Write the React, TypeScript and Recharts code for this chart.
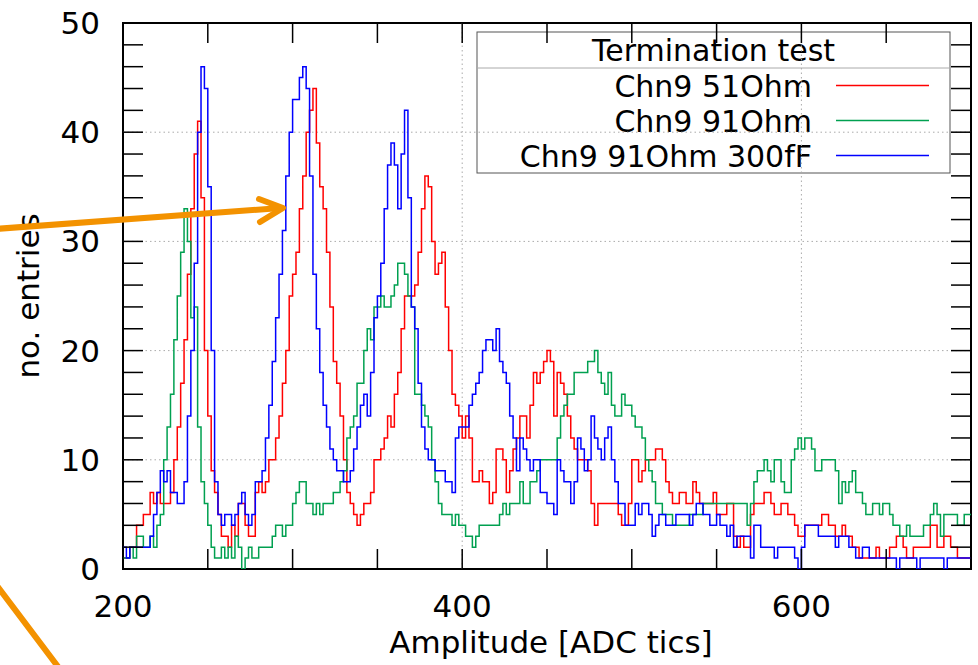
import React from 'react';
import { LineChart, Line, XAxis, YAxis, ReferenceLine, ReferenceArea } from 'recharts';

// histogram counts, bins of 2 ADC tics starting at 200
const binStart = 200;
const binWidth = 2;

const chn9_51Ohm = [
  1, 1, 2, 2, 4, 4, 5, 5, 7, 6, 7, 6, 6, 6, 7, 10, 13, 17, 21, 27, 33, 38, 41, 34, 20,
  14, 9, 7, 5, 3, 3, 2, 4, 3, 6, 6, 4, 3, 3, 7, 8, 7, 8, 10, 10, 12, 14, 17, 20, 25,
  27, 29, 33, 36, 40, 42, 44, 39, 35, 33, 29, 24, 19, 17, 14, 10, 7, 6, 5, 4, 5, 6, 6, 7, 10,
  10, 11, 12, 14, 13, 16, 18, 22, 25, 25, 25, 26, 29, 33, 36, 35, 30, 27, 28, 29, 24, 20, 16, 15, 14,
  12, 14, 12, 8, 8, 9, 8, 8, 6, 7, 11, 11, 10, 7, 9, 11, 12, 14, 14, 12, 15, 18, 17, 18, 19,
  20, 19, 14, 18, 17, 16, 14, 12, 11, 10, 10, 10, 9, 6, 4, 6, 6, 6, 6, 6, 6, 5, 4, 4, 6,
  10, 10, 8, 9, 10, 10, 10, 11, 11, 10, 8, 7, 6, 6, 7, 7, 6, 6, 8, 7, 6, 6, 6, 6, 7,
  5, 5, 5, 6, 6, 3, 2, 3, 2, 2, 5, 6, 6, 6, 7, 7, 6, 5, 5, 6, 6, 5, 5, 4, 3,
  3, 4, 4, 4, 4, 4, 5, 5, 4, 4, 3, 3, 4, 3, 3, 2, 2, 1, 1, 1, 1, 1, 2, 1, 1,
  1, 2, 2, 3, 3, 2, 1, 1, 2, 2, 2, 2, 2, 4, 4, 2, 2, 3, 3, 2, 2, 1, 1, 1, 1,
];

const chn9_91Ohm = [
  1, 1, 2, 1, 3, 3, 2, 2, 3, 2, 4, 5, 10, 13, 16, 21, 25, 29, 33, 30, 23, 24, 13, 8, 6,
  4, 2, 1, 1, 2, 1, 2, 1, 3, 2, 0, 1, 2, 1, 1, 2, 2, 2, 2, 3, 4, 4, 3, 4, 4,
  6, 7, 8, 8, 6, 6, 5, 6, 5, 6, 6, 6, 7, 7, 8, 9, 12, 13, 14, 17, 17, 20, 22, 21, 24,
  24, 25, 24, 24, 25, 26, 28, 28, 27, 25, 24, 16, 16, 15, 14, 13, 10, 8, 6, 5, 5, 5, 4, 5, 4,
  4, 3, 3, 2, 3, 4, 4, 4, 4, 4, 4, 5, 6, 5, 6, 6, 6, 8, 6, 6, 8, 8, 9, 10, 10,
  10, 10, 10, 12, 14, 15, 16, 16, 18, 18, 18, 18, 19, 19, 20, 18, 17, 16, 18, 15, 14, 14, 16, 15, 15,
  14, 13, 13, 12, 10, 9, 8, 6, 6, 5, 5, 5, 4, 4, 4, 4, 4, 5, 5, 5, 5, 6, 6, 6, 6,
  6, 6, 6, 6, 6, 6, 6, 6, 6, 4, 6, 8, 9, 9, 10, 9, 8, 10, 10, 8, 7, 7, 10, 11, 12,
  11, 12, 12, 11, 9, 9, 10, 10, 10, 10, 9, 6, 8, 7, 8, 9, 7, 7, 6, 5, 5, 6, 6, 5, 6,
  6, 5, 4, 4, 3, 3, 4, 3, 3, 3, 3, 4, 4, 5, 6, 5, 3, 5, 5, 5, 5, 4, 4, 5, 5,
];

const chn9_91Ohm_300fF = [
  2, 1, 2, 2, 2, 2, 2, 2, 3, 5, 7, 9, 8, 9, 7, 7, 6, 6, 8, 14, 20, 28, 40, 46, 44,
  35, 20, 8, 5, 4, 5, 5, 4, 5, 6, 7, 5, 4, 5, 8, 8, 9, 12, 15, 19, 23, 27, 31, 36, 40,
  43, 43, 45, 46, 44, 36, 27, 22, 18, 15, 13, 11, 10, 9, 9, 8, 8, 9, 11, 13, 15, 16, 14, 18, 23,
  25, 28, 33, 37, 39, 37, 33, 38, 42, 34, 24, 22, 17, 13, 11, 10, 10, 9, 9, 9, 8, 8, 7, 12, 13,
  13, 13, 15, 16, 17, 18, 20, 21, 21, 20, 22, 19, 18, 17, 14, 12, 9, 12, 11, 10, 9, 10, 10, 7, 7,
  6, 6, 5, 10, 9, 8, 8, 6, 8, 12, 11, 9, 10, 14, 12, 11, 10, 12, 13, 10, 8, 6, 6, 4, 4,
  4, 6, 5, 6, 6, 5, 3, 4, 5, 5, 4, 4, 4, 5, 5, 5, 5, 4, 5, 6, 6, 5, 5, 4, 4,
  5, 4, 4, 3, 4, 2, 3, 3, 3, 3, 1, 4, 4, 2, 2, 2, 2, 1, 2, 2, 2, 2, 2, 1, 0,
  2, 4, 4, 4, 4, 3, 3, 3, 3, 3, 2, 3, 3, 3, 2, 2, 1, 1, 2, 2, 1, 1, 1, 1, 1,
  1, 1, 1, 0, 1, 1, 1, 1, 1, 0, 1, 1, 1, 1, 1, 1, 1, 0, 1, 1, 1, 1, 1, 1, 1,
];

const xTicks = [200, 250, 300, 350, 400, 450, 500, 550, 600, 650, 700];
const xLabels = [200, 400, 600];
const yTicks = [0, 2, 4, 6, 8, 10, 12, 14, 16, 18, 20, 22, 24, 26, 28, 30, 32, 34, 36, 38, 40, 42, 44, 46, 48, 50];
const yLabels = [0, 10, 20, 30, 40, 50];
const xGrid = [400, 600];
const yGrid = [10, 20, 30, 40];

const seriesKeys = ['r51', 'g91', 'b91c'];
const seriesNames = ['Chn9 51Ohm', 'Chn9 91Ohm', 'Chn9 91Ohm 300fF'];
const seriesColors = ['#ff0000', '#00a050', '#0000ff'];

const data = chn9_51Ohm.map((_, i) => ({
  x: binStart + i * binWidth,
  r51: chn9_51Ohm[i],
  g91: chn9_91Ohm[i],
  b91c: chn9_91Ohm_300fF[i],
}));
// closing edge so the last bin is drawn to 700
data.push({ ...data[data.length - 1], x: binStart + chn9_51Ohm.length * binWidth });

const W = 978;
const H = 665;
const PLOT_LEFT = 123;
const PLOT_RIGHT = 971;
const PLOT_TOP = 23;
const PLOT_BOTTOM = 569;
const TICK = 20;
const FONT = '"DejaVu Sans", sans-serif';

const XTick = (props: any) => {
  const { x, payload } = props;
  const v = payload.value;
  return (
    <g>
      <line x1={x} x2={x} y1={PLOT_BOTTOM} y2={PLOT_BOTTOM - TICK} stroke="#000" strokeWidth={1.5} />
      <line x1={x} x2={x} y1={PLOT_TOP} y2={PLOT_TOP + TICK} stroke="#000" strokeWidth={1.5} />
      {xLabels.includes(v) && (
        <text x={x} y={617} textAnchor="middle" fontFamily={FONT} fontSize={31} fill="#000">
          {v}
        </text>
      )}
    </g>
  );
};

const YTick = (props: any) => {
  const { y, payload } = props;
  const v = payload.value;
  return (
    <g>
      <line x1={PLOT_LEFT} x2={PLOT_LEFT + TICK} y1={y} y2={y} stroke="#000" strokeWidth={1.5} />
      <line x1={PLOT_RIGHT} x2={PLOT_RIGHT - TICK} y1={y} y2={y} stroke="#000" strokeWidth={1.5} />
      {yLabels.includes(v) && (
        <text x={100} y={y + 11} textAnchor="end" fontFamily={FONT} fontSize={31} fill="#000">
          {v}
        </text>
      )}
    </g>
  );
};

// key box in the upper right corner
const KeyBox = () => {
  const left = 477;
  const right = 950;
  return (
    <g>
      <rect x={left} y={32} width={right - left} height={141} fill="#fff" stroke="#555" strokeWidth={1} />
      <line x1={left} x2={right} y1={68} y2={68} stroke="#aaa" strokeWidth={1} />
      <text x={(left + right) / 2} y={61} textAnchor="middle" fontFamily={FONT} fontSize={30} fill="#000">
        Termination test
      </text>
      {seriesNames.map((name, i) => (
        <g key={name}>
          <text x={812} y={97 + i * 35} textAnchor="end" fontFamily={FONT} fontSize={30} fill="#000">
            {name}
          </text>
          <line x1={836} x2={929} y1={85.5 + i * 35} y2={85.5 + i * 35} stroke={seriesColors[i]} strokeWidth={1.6} />
        </g>
      ))}
    </g>
  );
};

const YTitle = () => (
  <text
    x={39}
    y={296}
    transform="rotate(-90, 39, 296)"
    textAnchor="middle"
    fontFamily={FONT}
    fontSize={31}
    fill="#000"
  >
    no. entries
  </text>
);

export default function App() {
  return (
    <div style={{ position: 'absolute', left: 0, top: 0, width: W, height: H, background: '#fff' }}>
      <LineChart
        width={W}
        height={H}
        data={data}
        margin={{ top: PLOT_TOP, right: W - PLOT_RIGHT, bottom: 0, left: 0 }}
      >
        {yGrid.map((v) => (
          <ReferenceLine key={'gy' + v} y={v} stroke="#aaa" strokeWidth={1} strokeDasharray="1.5 3" />
        ))}
        {xGrid.map((v) => (
          <ReferenceLine key={'gx' + v} x={v} stroke="#aaa" strokeWidth={1} strokeDasharray="1.5 3" />
        ))}
        <KeyBox />
        <YTitle />
        <XAxis
          dataKey="x"
          type="number"
          domain={[200, 700]}
          ticks={xTicks}
          interval={0}
          allowDataOverflow
          height={H - PLOT_BOTTOM}
          axisLine={false}
          tickLine={false}
          tick={<XTick />}
          label={{ value: 'Amplitude [ADC tics]', position: 'insideBottom', offset: 12, fontFamily: FONT, fontSize: 31, fill: '#000', dx: 4 }}
        />
        <YAxis
          type="number"
          domain={[0, 50]}
          ticks={yTicks}
          interval={0}
          allowDataOverflow
          width={PLOT_LEFT}
          axisLine={false}
          tickLine={false}
          tick={<YTick />}
        />
        {seriesKeys.map((k, i) => (
          <Line
            key={k}
            type="stepAfter"
            dataKey={k}
            name={seriesNames[i]}
            stroke={seriesColors[i]}
            strokeWidth={1.5}
            dot={false}
            isAnimationActive={false}
          />
        ))}
        <ReferenceArea x1={200} x2={700} y1={0} y2={50} fill="none" fillOpacity={0} stroke="#000" strokeWidth={2} />
      </LineChart>
      {/* orange annotation arrows */}
      <svg width={W} height={H} style={{ position: 'absolute', left: 0, top: 0, pointerEvents: 'none' }}>
        <g stroke="#f39200" strokeWidth={6} strokeLinecap="round" strokeLinejoin="round" fill="none">
          <line x1={-5} y1={229} x2={281} y2={208} />
          <polyline points="259,199 283,208 260,222" />
          <line x1={-5} y1={583} x2={62} y2={672} />
        </g>
      </svg>
    </div>
  );
}
